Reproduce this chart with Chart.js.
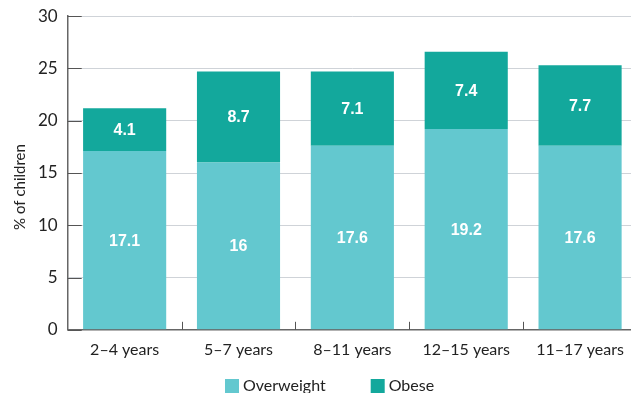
<!DOCTYPE html>
<html>
<head>
<meta charset="utf-8">
<script src="https://cdn.jsdelivr.net/npm/chart.js@4"></script>
<style>
  html, body { margin: 0; padding: 0; background: #fff; overflow: hidden; }
  #wrap { width: 637px; height: 397px; margin-top: -4px; }
</style>
</head>
<body>
<div id="wrap"><canvas id="ageChart"></canvas></div>
<script>
const ageGroups = ['2–4 years', '5–7 years', '8–11 years', '12–15 years', '11–17 years'];
const overweight = [17.1, 16, 17.6, 19.2, 17.6];
const obese = [4.1, 8.7, 7.1, 7.4, 7.7];
const yTicks = [0, 5, 10, 15, 20, 25, 30];
const yTitle = '% of children';

const FONT = 'Lato, "Noto Sans", sans-serif';

// short tick marks drawn inside the plot: on the y axis at each value, on the x axis between groups
const innerTicks = {
  id: 'innerTicks',
  afterDraw(chart) {
    const { ctx, chartArea, scales } = chart;
    ctx.save();
    ctx.strokeStyle = '#555';
    ctx.lineWidth = 1;
    scales.y.ticks.forEach(t => {
      const y = Math.round(scales.y.getPixelForValue(t.value)) + 0.5;
      ctx.beginPath();
      ctx.moveTo(chartArea.left, y);
      ctx.lineTo(chartArea.left + 14, y);
      ctx.stroke();
    });
    for (let i = 0; i < ageGroups.length - 1; i++) {
      const x = Math.round((scales.x.getPixelForValue(i) + scales.x.getPixelForValue(i + 1)) / 2) + 0.5;
      ctx.beginPath();
      ctx.moveTo(x, chartArea.bottom);
      ctx.lineTo(x, chartArea.bottom - 8);
      ctx.stroke();
    }
    ctx.restore();
  }
};

// white value labels in the middle of each segment
const segmentLabels = {
  id: 'segmentLabels',
  afterDatasetsDraw(chart) {
    const { ctx } = chart;
    ctx.save();
    ctx.fillStyle = '#fff';
    ctx.font = 'bold 16px "Liberation Sans", Arial, sans-serif';
    ctx.textAlign = 'center';
    ctx.textBaseline = 'middle';
    chart.data.datasets.forEach((ds, di) => {
      chart.getDatasetMeta(di).data.forEach((bar, i) => {
        const p = bar.getCenterPoint();
        ctx.fillText(String(ds.data[i]), p.x, p.y + 1);
      });
    });
    ctx.restore();
  }
};

// rotated y-axis title, sitting a little below the middle of the plot
const axisTitle = {
  id: 'axisTitle',
  afterDraw(chart) {
    const { ctx, chartArea } = chart;
    ctx.save();
    ctx.translate(20, (chartArea.top + chartArea.bottom) / 2 + 14);
    ctx.rotate(-Math.PI / 2);
    ctx.font = '15px ' + FONT;
    ctx.fillStyle = '#222';
    ctx.textAlign = 'center';
    ctx.textBaseline = 'middle';
    ctx.fillText(yTitle, 0, 0);
    ctx.restore();
  }
};

// legend along the bottom: square swatch, small gap, label, wide gap between entries
const bottomLegend = {
  id: 'bottomLegend',
  afterDraw(chart) {
    const { ctx, chartArea } = chart;
    const box = 14, gap = 4, itemGap = 45;
    ctx.save();
    ctx.font = '16px ' + FONT;
    ctx.textBaseline = 'middle';
    const items = chart.data.datasets.map(ds => ({
      text: ds.label, color: ds.backgroundColor, w: box + gap + ctx.measureText(ds.label).width
    }));
    const total = items.reduce((s, it) => s + it.w, 0) + itemGap * (items.length - 1);
    let x = Math.round((chartArea.left + chartArea.right) / 2 - 23 - total / 2);
    const y = chart.height - 7;
    items.forEach(it => {
      ctx.fillStyle = it.color;
      ctx.fillRect(x, y - box / 2, box, box);
      ctx.fillStyle = '#222';
      ctx.fillText(it.text, x + box + gap, y);
      x += it.w + itemGap;
    });
    ctx.restore();
  }
};

new Chart(document.getElementById('ageChart'), {
  type: 'bar',
  data: {
    labels: ageGroups,
    datasets: [
      { label: 'Overweight', data: overweight, backgroundColor: '#63c8cf' },
      { label: 'Obese', data: obese, backgroundColor: '#13a89c' }
    ]
  },
  options: {
    responsive: true,
    maintainAspectRatio: false,
    animation: false,
    categoryPercentage: 1,
    barPercentage: 0.73,
    layout: { padding: { top: 0, left: 28, right: 0, bottom: 32 } },
    scales: {
      x: {
        stacked: true,
        grid: { display: false },
        border: { color: '#666', width: 1.5 },
        ticks: { color: '#222', font: { family: FONT, size: 16 }, padding: 2 }
      },
      y: {
        stacked: true,
        min: 0,
        max: 30,
        afterBuildTicks: axis => { axis.ticks = yTicks.map(v => ({ value: v })); },
        grid: { color: '#cfd3d8', drawTicks: false },
        border: { color: '#666', width: 1.5 },
        ticks: { color: '#222', font: { family: FONT, size: 17 }, padding: 10 }
      }
    },
    plugins: {
      legend: { display: false },
      tooltip: { enabled: false }
    }
  },
  plugins: [innerTicks, segmentLabels, axisTitle, bottomLegend]
});
</script>
</body>
</html>
